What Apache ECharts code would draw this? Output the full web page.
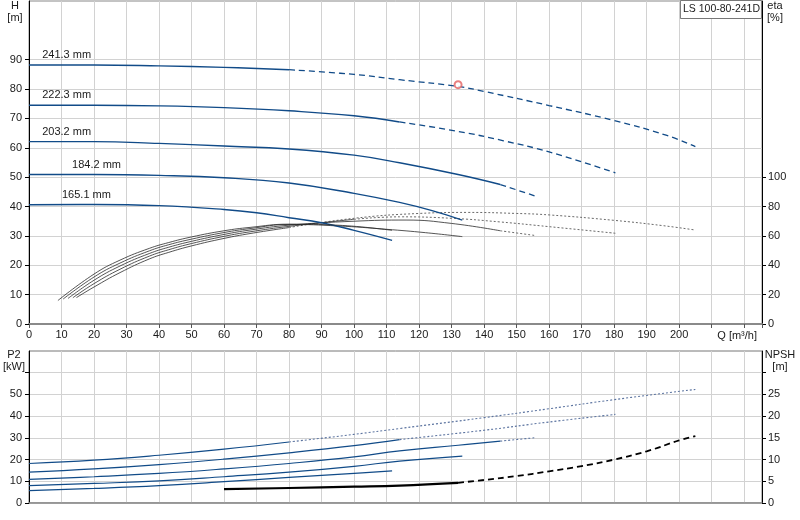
<!DOCTYPE html>
<html>
<head>
<meta charset="utf-8">
<script src="https://cdn.jsdelivr.net/npm/echarts@6/dist/echarts.min.js"></script>
<style>html,body{margin:0;padding:0;background:#fff}#c{width:800px;height:520px}</style>
</head>
<body>
<div id="c"></div>
<script>
// ---- data ----
const pumpName = 'LS 100-80-241D';
const diameters = ['241.3 mm', '222.3 mm', '203.2 mm', '184.2 mm', '165.1 mm'];
const diaLabelQ = [4.2, 4.2, 4.2, 13.4, 10.3];

// Head curves H [m] vs Q [m3/h]
const qH1 = [0, 20, 40, 60, 80, 100, 114, 132, 140, 160, 180, 196, 205];
const h1  = [88.2, 88.2, 87.9, 87.4, 86.6, 85.0, 83.2, 80.9, 79.2, 74.4, 69.3, 64.3, 60.4];
const qH2 = [0, 20, 40, 60, 80, 100, 114, 132, 146, 160, 180.4];
const h2  = [74.5, 74.5, 74.3, 73.7, 72.6, 70.9, 68.8, 65.6, 62.4, 58.6, 51.5];
const qH3 = [0, 20, 40, 60, 80, 100, 114, 132, 145, 156];
const h3  = [62.1, 62.1, 61.5, 60.6, 59.6, 57.5, 54.9, 50.9, 47.5, 43.5];
const qH4 = [0, 20, 40, 60, 80, 100, 114, 124, 133.3];
const h4  = [50.9, 50.9, 50.6, 49.8, 48.0, 44.5, 41.4, 38.6, 35.4];
const qH5 = [0, 20, 40, 60, 70, 80, 90, 100, 111.7];
const h5  = [40.6, 40.7, 40.3, 39.0, 37.9, 36.2, 34.5, 31.9, 28.5];
const hSolidTo = [80, 114, 145, 140, 120];

// Duty point
const dutyQ = [132];
const dutyH = [81.5];

// Efficiency curves eta [%]
const qE1 = [14.6, 20, 28, 37, 43, 50, 60, 68, 80, 100, 120, 135, 150, 160, 180, 195, 205];
const e1  = [18, 25.2, 35, 44.3, 48.8, 53.2, 58.3, 61.6, 65.7, 72, 75.3, 76, 75.3, 74.3, 70.6, 67, 64];
const qE2 = [13.5, 20, 28, 37, 43, 50, 60, 68, 80, 100, 114, 130, 145, 160, 180.4];
const e2  = [17.9, 27.5, 37.3, 46.2, 50.6, 54.8, 59.7, 62.8, 66.5, 71.3, 73, 72, 69.5, 66.3, 61.8];
const qE3 = [12, 20, 28, 37, 43, 50, 60, 68, 80, 100, 116, 130, 145, 156];
const e3  = [17.4, 29.8, 39.5, 48, 52.3, 56.3, 61, 64, 67.3, 70, 70.8, 68.5, 63.5, 60.2];
const qE4 = [10.5, 20, 28, 37, 43, 50, 60, 68, 80, 95, 110, 122, 133.3];
const e4  = [17, 32, 41.5, 49.8, 54, 57.8, 62.3, 65, 67.8, 66.8, 64.5, 62.2, 59.5];
const qE5 = [8.9, 20, 28, 37, 43, 50, 60, 68, 80, 95, 111.7];
const e5  = [16, 34, 43.5, 51.5, 55.5, 59.3, 63.5, 65.8, 68, 67.3, 63.8];
const eSolidTo = [80, 100, 145, 140, 120];

// Power curves P2 [kW]
const qP1 = [0, 20, 40, 60, 80, 100, 114, 140, 160, 180, 205];
const p1  = [18.2, 19.7, 22.0, 24.8, 28.1, 31.6, 34.3, 39.3, 43.4, 47.6, 52.3];
const qP2 = [0, 20, 40, 60, 80, 100, 114, 140, 160, 180.4];
const p2  = [14.2, 15.7, 17.7, 20.2, 23.1, 26.4, 29.2, 33.5, 37.3, 40.8];
const qP3 = [0, 20, 40, 60, 80, 100, 114, 132, 145, 156];
const p3  = [10.9, 12.1, 13.6, 15.7, 18.2, 21.2, 24.0, 26.6, 28.5, 30.1];
const qP4 = [0, 20, 40, 60, 80, 100, 114, 133.3];
const p4  = [8.0, 9.0, 10.2, 12.1, 14.2, 16.9, 19.3, 21.6];
const qP5 = [0, 20, 40, 60, 80, 100, 111.7];
const p5  = [5.7, 6.7, 8.0, 9.8, 11.8, 13.6, 14.8];
const pSolidTo = [80, 114, 145, 140, 120];

// NPSH [m]
const qN = [60, 80, 100, 114, 132, 140, 150, 160, 170, 180, 190, 200, 205];
const npsh = [3.2, 3.45, 3.75, 4.0, 4.65, 5.3, 6.2, 7.3, 8.5, 10.0, 11.9, 14.4, 15.4];
const npshSolidTo = 132;

// Axis ticks
const qTickLabels = [0,10,20,30,40,50,60,70,80,90,100,110,120,130,140,150,160,170,180,190,200];
const hTicks = [0,10,20,30,40,50,60,70,80,90];
const etaTicks = [0,20,40,60,80,100];
const p2LabelTicks = [0,10,20,30,40,50];
const p2Ticks = [0,10,20,30,40,50,60];
const npshLabelTicks = [0,5,10,15,20,25];
const npshTicks = [0,5,10,15,20,25,30];

// ---- helpers ----
function pairs(q, v) { return q.map((x, i) => [x, v[i]]); }
function part(q, v, lo, hi) { return pairs(q, v).filter(p => p[0] >= lo && p[0] <= hi); }

const FONT = 'Liberation Sans, Arial, sans-serif';
const txt = { fontFamily: FONT, fontSize: 11, color: '#1a1a1a' };
const BLUE = '#114b88';

const series = [];
function line(data, opt) {
  series.push(Object.assign({
    type: 'line', data: data, showSymbol: false, symbol: 'none',
    smooth: 0.45, silent: true, z: 3
  }, opt));
}

const Hq = [qH1, qH2, qH3, qH4, qH5], Hv = [h1, h2, h3, h4, h5];
const Eq = [qE1, qE2, qE3, qE4, qE5], Ev = [e1, e2, e3, e4, e5];
const Pq = [qP1, qP2, qP3, qP4, qP5], Pv = [p1, p2, p3, p4, p5];

for (let i = 0; i < 5; i++) {
  line(part(Hq[i], Hv[i], 0, hSolidTo[i]), {
    xAxisIndex: 0, yAxisIndex: 0,
    lineStyle: { color: BLUE, width: 1.4 },
    markPoint: {
      symbol: 'circle', symbolSize: 1, silent: true,
      itemStyle: { color: 'rgba(0,0,0,0)' },
      data: [{ coord: [diaLabelQ[i], Hv[i][0]] }],
      label: { show: true, formatter: diameters[i], position: [0, -15],
               fontFamily: FONT, fontSize: 11, color: '#1a1a1a' }
    }
  });
  line(part(Hq[i], Hv[i], hSolidTo[i], 1000), {
    xAxisIndex: 0, yAxisIndex: 0,
    lineStyle: { color: BLUE, width: 1.3, type: [6, 4] }
  });
  line(part(Eq[i], Ev[i], 0, eSolidTo[i]), {
    xAxisIndex: 0, yAxisIndex: 1,
    lineStyle: { color: '#2a2a2a', width: 0.8 }
  });
  line(part(Eq[i], Ev[i], eSolidTo[i], 1000), {
    xAxisIndex: 0, yAxisIndex: 1,
    lineStyle: { color: '#6a6a6a', width: 1, type: [2, 2] }
  });
  line(part(Pq[i], Pv[i], 0, pSolidTo[i]), {
    xAxisIndex: 1, yAxisIndex: 2,
    lineStyle: { color: BLUE, width: 1.2 }
  });
  line(part(Pq[i], Pv[i], pSolidTo[i], 1000), {
    xAxisIndex: 1, yAxisIndex: 2,
    lineStyle: { color: '#5c74a0', width: 1.1, type: [2, 2] }
  });
}
line(part(qN, npsh, 0, npshSolidTo), {
  xAxisIndex: 1, yAxisIndex: 3, lineStyle: { color: '#000', width: 2.2 }
});
line(part(qN, npsh, npshSolidTo, 1000), {
  xAxisIndex: 1, yAxisIndex: 3, lineStyle: { color: '#000', width: 1.8, type: [6, 4] }
});
series.push({
  type: 'scatter', xAxisIndex: 0, yAxisIndex: 0, data: pairs(dutyQ, dutyH),
  symbol: 'emptyCircle', symbolSize: 7, silent: true, z: 5,
  itemStyle: { color: '#e26060', borderColor: '#e26060', borderWidth: 1 }
});

const gridLine = { show: true, lineStyle: { color: '#d2d2d2', width: 1 } };

function xAx(gi, showLabels) {
  return {
    type: 'value', gridIndex: gi, min: 0, max: 225.5, interval: 10,
    axisLine: { show: true, onZero: false, lineStyle: { color: '#8a8a8a', width: gi === 0 ? 2 : 1.5 } },
    axisTick: { show: showLabels, length: 4, lineStyle: { color: '#555' } },
    axisLabel: showLabels ? Object.assign({
      show: true, margin: 5, customValues: qTickLabels,
      formatter: v => (v <= 200 ? String(v) : '')
    }, txt) : { show: false },
    splitLine: gridLine,
    name: showLabels ? 'Q [m³/h]' : '',
    nameLocation: 'end', nameGap: -5,
    nameTextStyle: Object.assign({ align: 'right', verticalAlign: 'top', padding: [6, 0, 0, 0] }, txt)
  };
}
function yAx(gi, pos, min, max, interval, labelVals, tickVals, name, nameGap, pad, split) {
  return {
    type: 'value', gridIndex: gi, position: pos, min: min, max: max, interval: interval,
    axisLine: { show: true, onZero: false, lineStyle: { color: '#000', width: 1 } },
    axisTick: { show: true, length: 4, customValues: tickVals, lineStyle: { color: '#000' } },
    axisLabel: Object.assign({ show: true, margin: pos === 'left' ? 7 : 6, customValues: labelVals,
      formatter: v => (labelVals.indexOf(v) >= 0 ? String(v) : '') }, txt),
    splitLine: split ? gridLine : { show: false },
    name: name, nameLocation: 'end', nameGap: nameGap,
    nameTextStyle: Object.assign({ align: 'center', verticalAlign: 'bottom', lineHeight: 12, padding: pad }, txt)
  };
}

const option = {
  animation: false,
  backgroundColor: '#fff',
  textStyle: { fontFamily: FONT },
  title: {
    text: pumpName, right: 38, top: 0,
    borderColor: '#777', borderWidth: 1, padding: [3, 2, 3, 3],
    backgroundColor: '#fff',
    textStyle: { fontFamily: FONT, fontSize: 10.5, fontWeight: 'normal', color: '#1a1a1a', lineHeight: 13 }
  },
  grid: [
    { left: 29, right: 38, top: 0, height: 324, show: true, borderColor: '#888', borderWidth: 1, backgroundColor: 'transparent' },
    { left: 29, right: 38, top: 351, height: 152, show: true, borderColor: '#777', borderWidth: 1, backgroundColor: 'transparent' }
  ],
  xAxis: [xAx(0, true), xAx(1, false)],
  yAxis: [
    yAx(0, 'left', 0, 110, 10, hTicks, hTicks, 'H\n[m]', -23, [0, 28, 0, 0], true),
    yAx(0, 'right', 0, 220, 20, etaTicks, etaTicks, 'eta\n[%]', -23, [0, 0, 0, 26], false),
    yAx(1, 'left', 0, 70, 10, p2LabelTicks, p2Ticks, 'P2\n[kW]', -22, [0, 30, 0, 0], true),
    yAx(1, 'right', 0, 35, 5, npshLabelTicks, npshTicks, 'NPSH\n[m]', -22, [0, 0, 0, 36], false)
  ],
  series: series
};

const chart = echarts.init(document.getElementById('c'), null, { renderer: 'canvas' });
chart.setOption(option);
</script>
</body>
</html>
